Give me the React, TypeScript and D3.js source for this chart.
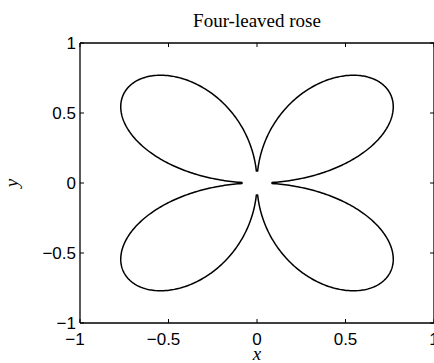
import React, { useEffect, useRef } from "react";
import * as d3 from "d3";

// Figure geometry
const WIDTH = 434;
const HEIGHT = 363;
const margin = { left: 80, top: 43, right: 0, bottom: 40 };

// Axis ranges and ticks
const xDomain = [-1, 1];
const yDomain = [-1, 1];
const xTicks = [-1, -0.5, 0, 0.5, 1];
const yTicks = [-1, -0.5, 0, 0.5, 1];

// Rose curve r = sin(k·θ); petals stop short of the pole at tipRadius
const roseK = [2];
const petalCount = [4];
const tipRadius = [0.085];
const samplesPerPetal = [240];

const titleText = "Four-leaved rose";
const xLabelText = "x";
const yLabelText = "y";

const fmt = (v: number) => {
  const s = String(Math.abs(v));
  return { sign: v < 0 ? "\u2212" : "", body: s };
};

function rosePoints(): [number, number][] {
  const k = roseK[0];
  const n = petalCount[0];
  const r0 = tipRadius[0];
  const m = samplesPerPetal[0];
  const span = (2 * Math.PI) / n;
  // angle offset at which |sin(kθ)| reaches the tip radius
  const t0 = Math.asin(r0) / k;
  const pts: [number, number][] = [];
  for (let p = 0; p < n; p++) {
    const a = p * span + t0;
    const b = (p + 1) * span - t0;
    for (let i = 0; i <= m; i++) {
      const t = a + ((b - a) * i) / m;
      const r = Math.abs(Math.sin(k * t));
      pts.push([r * Math.cos(t), r * Math.sin(t)]);
    }
  }
  return pts;
}

export default function App() {
  const ref = useRef<SVGSVGElement | null>(null);

  useEffect(() => {
    const svg = d3.select(ref.current);
    svg.selectAll("*").remove();

    const x = d3.scaleLinear().domain(xDomain).range([margin.left, WIDTH - margin.right]);
    const y = d3.scaleLinear().domain(yDomain).range([HEIGHT - margin.bottom, margin.top]);

    const x0 = x(xDomain[0]);
    const x1 = x(xDomain[1]);
    const y0 = y(yDomain[0]);
    const y1 = y(yDomain[1]);

    const tickFont = "'Liberation Sans', Arial, Helvetica, sans-serif";
    const serif = "'Liberation Serif', 'Times New Roman', Times, serif";
    const tickSize = 17;
    const tickLen = 4;

    // curve
    const line = d3
      .line<[number, number]>()
      .x((d) => x(d[0]))
      .y((d) => y(d[1]));
    svg
      .append("path")
      .attr("d", line(rosePoints()) + "Z")
      .attr("fill", "none")
      .attr("stroke", "#000")
      .attr("stroke-width", 1.5)
      .attr("stroke-linejoin", "round");

    // axes box
    const box = svg.append("g").attr("stroke", "#000").attr("stroke-width", 1.3).attr("fill", "none");
    box.append("line").attr("x1", x0).attr("x2", x0).attr("y1", y0).attr("y2", y1);
    box.append("line").attr("x1", x0).attr("x2", x1).attr("y1", y0).attr("y2", y0);
    box.append("line").attr("x1", x0).attr("x2", x1).attr("y1", y1).attr("y2", y1);
    box.append("line").attr("x1", x1).attr("x2", x1).attr("y1", y0).attr("y2", y1);

    // inward ticks on all sides
    const ticks = svg.append("g").attr("stroke", "#000").attr("stroke-width", 1);
    xTicks.forEach((t) => {
      ticks.append("line").attr("x1", x(t)).attr("x2", x(t)).attr("y1", y0).attr("y2", y0 - tickLen);
      ticks.append("line").attr("x1", x(t)).attr("x2", x(t)).attr("y1", y1).attr("y2", y1 + tickLen);
    });
    yTicks.forEach((t) => {
      ticks.append("line").attr("x1", x0).attr("x2", x0 + tickLen).attr("y1", y(t)).attr("y2", y(t));
      ticks.append("line").attr("x1", x1).attr("x2", x1 - tickLen).attr("y1", y(t)).attr("y2", y(t));
    });

    // x tick labels: number centred on the tick, minus hanging to the left
    const xl = svg.append("g").attr("font-family", tickFont).attr("font-size", tickSize).attr("fill", "#000");
    xTicks.forEach((t) => {
      const { sign, body } = fmt(t);
      const txt = xl
        .append("text")
        .attr("x", x(t))
        .attr("y", y0 + 22)
        .attr("text-anchor", "middle")
        .text(body);
      if (sign) {
        const w = (txt.node() as SVGTextElement).getComputedTextLength();
        xl.append("text")
          .attr("x", x(t) - w / 2)
          .attr("y", y0 + 22)
          .attr("text-anchor", "end")
          .text(sign);
      }
    });

    // y tick labels, right-aligned left of the axis
    const yl = svg.append("g").attr("font-family", tickFont).attr("font-size", tickSize).attr("fill", "#000");
    yTicks.forEach((t) => {
      const { sign, body } = fmt(t);
      yl.append("text")
        .attr("x", x0 - 4)
        .attr("y", y(t) + 6)
        .attr("text-anchor", "end")
        .text(sign + body);
    });

    // title and axis labels
    svg
      .append("text")
      .attr("x", (x0 + x1) / 2)
      .attr("y", 27)
      .attr("text-anchor", "middle")
      .attr("font-family", serif)
      .attr("font-size", 19)
      .text(titleText);
    svg
      .append("text")
      .attr("x", (x0 + x1) / 2)
      .attr("y", 360)
      .attr("text-anchor", "middle")
      .attr("font-family", serif)
      .attr("font-style", "italic")
      .attr("font-size", 19)
      .text(xLabelText);
    svg
      .append("text")
      .attr("transform", `translate(18, ${(y0 + y1) / 2}) rotate(-90)`)
      .attr("text-anchor", "middle")
      .attr("font-family", serif)
      .attr("font-style", "italic")
      .attr("font-size", 19)
      .text(yLabelText);
  }, []);

  return (
    <svg
      ref={ref}
      width={WIDTH}
      height={HEIGHT}
      style={{ position: "absolute", left: 0, top: 0, background: "#fff", display: "block" }}
    />
  );
}
